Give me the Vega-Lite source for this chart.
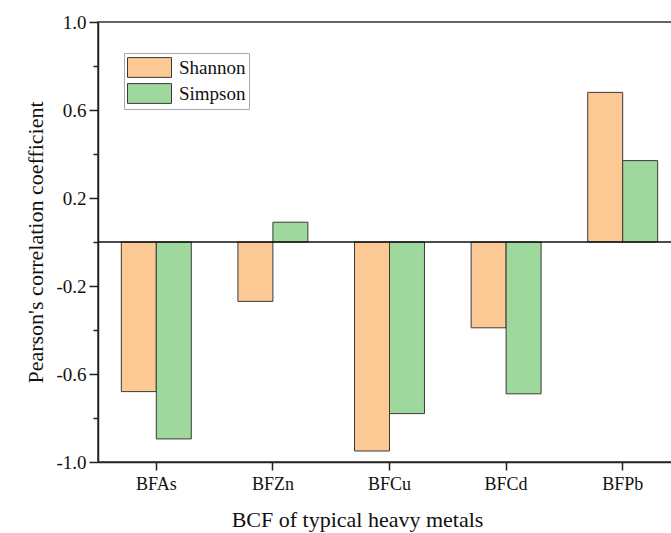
{
  "$schema": "https://vega.github.io/schema/vega-lite/v6.json",
  "autosize": "none",
  "padding": {"left": 98, "top": 22, "right": 0, "bottom": 71},
  "width": 583,
  "height": 440,
  "config": {
    "font": "Liberation Serif",
    "view": {"stroke": "#333", "strokeWidth": 1.5},
    "axis": {"domainColor": "#222", "domainWidth": 1.5, "tickColor": "#222", "tickWidth": 1.5, "labelColor": "#111", "titleColor": "#111", "grid": false, "labelFont": "Liberation Serif", "titleFont": "Liberation Serif", "titleFontWeight": "normal"}
  },
  "layer": [
    {
      "data": {"values": [
        {"metal": "BFAs", "index": "Shannon", "r": -0.68},
        {"metal": "BFAs", "index": "Simpson", "r": -0.895},
        {"metal": "BFZn", "index": "Shannon", "r": -0.27},
        {"metal": "BFZn", "index": "Simpson", "r": 0.09},
        {"metal": "BFCu", "index": "Shannon", "r": -0.95},
        {"metal": "BFCu", "index": "Simpson", "r": -0.78},
        {"metal": "BFCd", "index": "Shannon", "r": -0.39},
        {"metal": "BFCd", "index": "Simpson", "r": -0.69},
        {"metal": "BFPb", "index": "Shannon", "r": 0.68},
        {"metal": "BFPb", "index": "Simpson", "r": 0.37}
      ]},
      "mark": {"type": "bar", "stroke": "#3a3a3a", "strokeWidth": 1},
      "encoding": {
        "x": {"field": "metal", "type": "nominal", "sort": ["BFAs", "BFZn", "BFCu", "BFCd", "BFPb"],
          "scale": {"paddingInner": 0.4, "paddingOuter": 0.2},
          "axis": {"labelAngle": 0, "tickSize": 8, "labelFontSize": 18, "labelPadding": 5, "title": "BCF of typical heavy metals", "titleFontSize": 22, "titlePadding": 16, "titleX": 259}},
        "xOffset": {"field": "index", "type": "nominal", "sort": ["Shannon", "Simpson"]},
        "y": {"field": "r", "type": "quantitative", "scale": {"domain": [-1, 1], "nice": false, "zero": false},
          "axis": {"values": [-1, -0.8, -0.6, -0.4, -0.2, 0, 0.2, 0.4, 0.6, 0.8, 1],
            "labelExpr": "round(abs(datum.value)*10) % 4 == 2 ? (datum.value < 0 ? '-' + format(abs(datum.value), '.1f') : format(datum.value, '.1f')) : ''",
            "tickSize": {"condition": {"test": "round(abs(datum.value)*10) % 4 == 2", "value": 9}, "value": 5},
            "labelFontSize": 19, "labelPadding": 3, "title": "Pearson's correlation coefficient", "titleFontSize": 22, "titlePadding": 8}},
        "color": {"field": "index", "type": "nominal", "sort": ["Shannon", "Simpson"],
          "scale": {"domain": ["Shannon", "Simpson"], "range": ["#FCC893", "#9ED89C"]},
          "legend": {"title": null, "orient": "none", "legendX": 26, "legendY": 31,
            "symbolType": "M-1,-0.9H3V0.9H-1Z", "symbolSize": 484, "symbolStrokeColor": "#3a3a3a", "symbolStrokeWidth": 1, "symbolOpacity": 1,
            "labelFontSize": 19, "labelFont": "Liberation Serif", "labelColor": "#111", "labelOffset": 29, "rowPadding": 1,
            "padding": 3, "strokeColor": "#aaa", "fillColor": "white"}}
      }
    },
    {
      "data": {"values": [{"z": 0}]},
      "mark": {"type": "rule", "color": "#111", "strokeWidth": 1.5},
      "encoding": {"y": {"field": "z", "type": "quantitative"}}
    }
  ]
}
